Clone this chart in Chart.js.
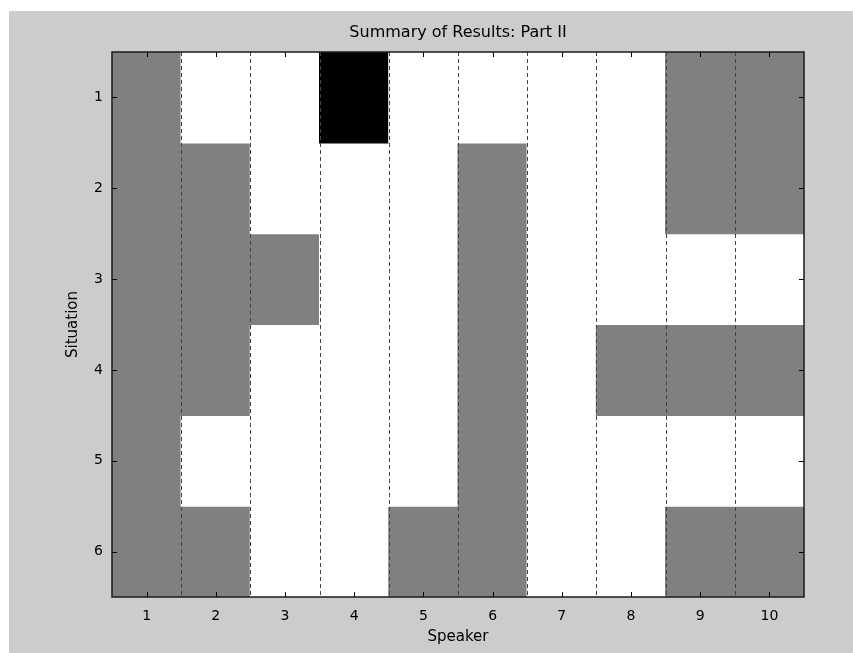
<!DOCTYPE html>
<html>
<head>
<meta charset="utf-8">
<script src="https://cdn.jsdelivr.net/npm/chart.js@4/dist/chart.umd.min.js"></script>
<style>
  html, body { margin:0; padding:0; background:#fff; }
  #wrap { position:absolute; left:9px; top:11px; width:844px; height:642px; background:#cccccc; }
</style>
</head>
<body>
<div id="wrap"><canvas id="chart" width="844" height="642"></canvas></div>
<script>
// ─── DATA ────────────────────────────────────────────────────────────────────
const speakers   = ['1','2','3','4','5','6','7','8','9','10'];
const situations = [1,2,3,4,5,6];
// 0 = white, 1 = gray, 2 = black ; one row per situation, one entry per speaker
const sit1 = [1,0,0,2,0,0,0,0,1,1];
const sit2 = [1,1,0,0,0,1,0,0,1,1];
const sit3 = [1,1,1,0,0,1,0,0,0,0];
const sit4 = [1,1,0,0,0,1,0,1,1,1];
const sit5 = [1,0,0,0,0,1,0,0,0,0];
const sit6 = [1,1,0,0,1,1,0,0,1,1];
const grid = [sit1, sit2, sit3, sit4, sit5, sit6];
const cellColors = ['#ffffff','#808080','#000000'];

const FONT = 'DejaVu Sans';

// frame, inward ticks and dashed separators, drawn on top of the cells
const framePlugin = {
  id:'frame',
  afterDatasetsDraw(chart) {
    const {ctx, chartArea:a, scales:{x, y}} = chart;
    ctx.save();
    // dashed separators between speakers
    ctx.strokeStyle = '#444';
    ctx.lineWidth = 1;
    ctx.setLineDash([4,3]);
    for (let i = 0; i < speakers.length-1; i++) {
      const px = Math.round((x.getPixelForValue(i) + x.getPixelForValue(i+1))/2) + 0.5;
      ctx.beginPath(); ctx.moveTo(px, a.top); ctx.lineTo(px, a.bottom); ctx.stroke();
    }
    ctx.setLineDash([]);
    // ticks
    ctx.strokeStyle = '#000';
    ctx.beginPath();
    speakers.forEach((s,i)=>{
      const px = Math.round(x.getPixelForValue(i)) + 0.5;
      ctx.moveTo(px, a.top); ctx.lineTo(px, a.top+5);
      ctx.moveTo(px, a.bottom); ctx.lineTo(px, a.bottom-5);
    });
    situations.forEach(v=>{
      const py = Math.round(y.getPixelForValue(v)) + 0.5;
      ctx.moveTo(a.left, py); ctx.lineTo(a.left+5, py);
      ctx.moveTo(a.right, py); ctx.lineTo(a.right-5, py);
    });
    ctx.stroke();
    // box
    ctx.strokeStyle = '#1a1a1a';
    ctx.lineWidth = 1.5;
    ctx.strokeRect(a.left, a.top, a.right-a.left, a.bottom-a.top);
    ctx.restore();
  }
};

const datasets = situations.map((s,r)=>({
  label:'Situation '+s,
  data: speakers.map(()=>[s-0.5, s+0.5]),
  backgroundColor: grid[r].map(c=>cellColors[c]),
  borderWidth:0,
  inflateAmount:0.6,
  barPercentage:1,
  categoryPercentage:1,
  grouped:false
}));

new Chart(document.getElementById('chart'), {
  type:'bar',
  data:{ labels:speakers, datasets },
  options:{
    responsive:false,
    animation:false,
    layout:{ padding:{ left:0, right:49, top:0, bottom:0 } },
    plugins:{
      legend:{ display:false },
      tooltip:{ enabled:false },
      title:{
        display:true, text:'Summary of Results: Part II', color:'#000',
        fullSize:false,
        font:{ family:FONT, size:16, weight:'normal' },
        padding:{ top:12, bottom:9.8 }
      }
    },
    scales:{
      x:{
        grid:{ display:false, drawTicks:false },
        border:{ display:false },
        ticks:{ color:'#000', padding:11, font:{ family:FONT, size:14 } },
        title:{ display:true, text:'Speaker', color:'#000', font:{ family:FONT, size:15 }, padding:{ top:0, bottom:7 } },
        afterFit(s){ s.height = 56; }
      },
      y:{
        min:0.5, max:6.5, reverse:true,
        grid:{ display:false, drawTicks:false },
        border:{ display:false },
        ticks:{ color:'#000', padding:9, font:{ family:FONT, size:14 } },
        afterBuildTicks(s){ s.ticks = situations.map(v=>({value:v})); },
        title:{ display:true, text:'Situation', color:'#000', font:{ family:FONT, size:15 }, padding:{ top:55, bottom:0 } },
        afterFit(s){ s.width = 103; }
      }
    }
  },
  plugins:[framePlugin]
});
</script>
</body>
</html>
